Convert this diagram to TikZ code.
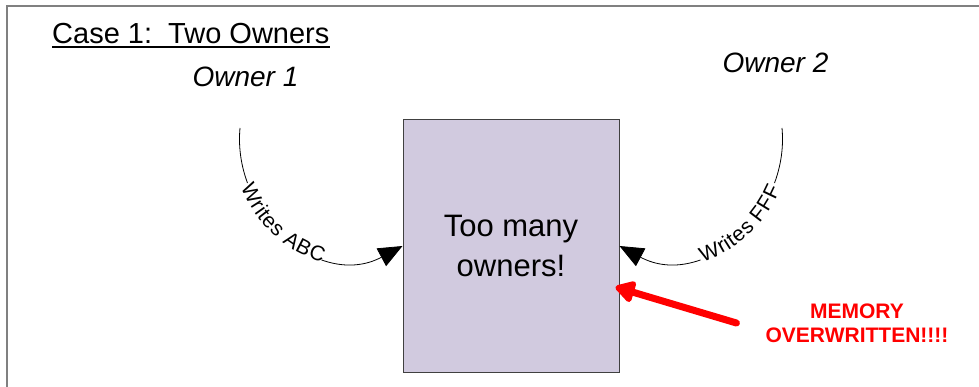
\documentclass[tikz,border=0pt]{standalone}
\usepackage{fontspec}
\setmainfont{Liberation Sans}
\usetikzlibrary{arrows.meta,calc,decorations.text}
\definecolor{boxfill}{RGB}{209,202,223}
\definecolor{framegray}{RGB}{128,128,128}
\definecolor{alertred}{RGB}{255,0,0}
\newcommand{\arcfont}{\fontsize{21}{21}\selectfont}

\begin{document}
\begin{tikzpicture}[x=1pt, y=-1pt,
  heading/.style={font=\fontsize{29}{30}\selectfont, inner sep=0pt, anchor=base west},
  owner/.style={font=\fontsize{28}{30}\selectfont\itshape, inner sep=0pt, anchor=base},
  store/.style={draw=black!75, line width=1pt, fill=boxfill, minimum width=216pt,
                minimum height=252pt, align=center, font=\fontsize{31}{40}\selectfont},
  alert/.style={font=\fontsize{21}{24.4}\selectfont\bfseries, text=alertred,
                align=center, inner sep=0pt},
  write/.style={-{Triangle[length=24pt,width=20pt]}, line width=0.8pt,
                dash pattern=on 56pt off 110pt on 2000pt off 1pt},
  hit/.style={-{Triangle[length=22pt,width=24pt,round]}, line width=7pt, alertred,
              line cap=round, line join=round},
]

% --- Frame ---
\useasboundingbox (0,0) rectangle (979,387);
\draw[framegray, line width=2pt] (7,387) -- (7,5.8) -- (979,5.8);

% --- Headings ---
\node[heading] (case) at (52,44) {Case 1:\ \ Two Owners};
\draw[line width=1.5pt] ($(case.base west)+(0,3)$) -- ($(case.base east)+(0,3)$);
\node[owner] (own1) at (245.5,87) {Owner 1};
\node[owner] (own2) at (775.5,73) {Owner 2};

% --- Shared memory ---
\node[store] (mem) at (511,246) {Too many\\owners!};
\node[alert] (over) at (857,323) {MEMORY\\OVERWRITTEN!!!!};

% --- Writes ---
\coordinate (w1) at (240,128);
\coordinate (w2) at (782,128);
\draw[write] (w1) .. controls (232,215) and (320,290) .. (mem.west);
\path[decorate, decoration={text along path, text={|\arcfont|Writes ABC},
      text align={left indent=57pt}, raise=-8pt}]
  (w1) .. controls (232,215) and (320,290) .. (mem.west);
\draw[write] (w2) .. controls (790,215) and (702,290) .. (mem.east);
\path[decorate, decoration={text along path, text={|\arcfont|Writes FFF},
      text align={right, right indent=59pt}, raise=-8pt}]
  (mem.east) .. controls (702,290) and (790,215) .. (w2);

% --- Overwrite ---
\draw[hit] ($(over.west)+(-29,0)$) -- ($(mem.east)+(-4,41)$);
\end{tikzpicture}
\end{document}
